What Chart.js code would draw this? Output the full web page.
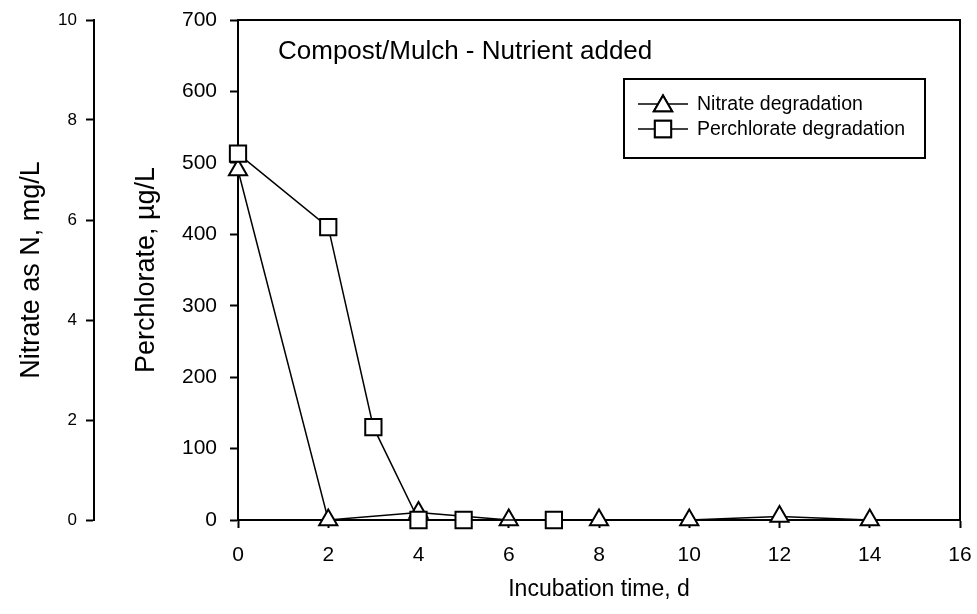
<!DOCTYPE html>
<html>
<head>
<meta charset="utf-8">
<script src="https://cdn.jsdelivr.net/npm/chart.js@4"></script>
<style>
  html, body { margin: 0; padding: 0; background: #fff; }
  #wrap { width: 977px; height: 614px; }
</style>
</head>
<body>
<div id="wrap"><canvas id="c" width="977" height="614"></canvas></div>
<script>
// ---- data ----
const nitrateDays = [0, 2, 4, 6, 8, 10, 12, 14];
const nitrateMgL = [7.0, 0, 0.15, 0, 0, 0, 0.07, 0];
const perchlorateDays = [0, 2, 3, 4, 5, 7];
const perchlorateUgL = [513, 410, 130, 0, 0, 0];
const seriesLabels = ['Nitrate degradation', 'Perchlorate degradation'];
const xTicks = [0, 2, 4, 6, 8, 10, 12, 14, 16];
const perchlorateTicks = [0, 100, 200, 300, 400, 500, 600, 700];
const nitrateTicks = [0, 2, 4, 6, 8, 10];
const annotationText = 'Compost/Mulch - Nutrient added';
const xTitle = 'Incubation time, d';
const perchlorateTitle = 'Perchlorate, \u00b5g/L';
const nitrateTitle = 'Nitrate as N, mg/L';

const FONT = "'Liberation Sans', Arial, Helvetica, sans-serif";
const toPts = (xs, ys) => xs.map((x, i) => ({ x: x, y: ys[i] }));

const annotationPlugin = {
  id: 'annot',
  afterDraw(chart) {
    const { ctx, chartArea } = chart;
    ctx.save();
    ctx.fillStyle = '#000';
    ctx.font = '26px ' + FONT;
    ctx.textBaseline = 'middle';
    ctx.textAlign = 'left';
    ctx.fillText(annotationText, chartArea.left + 40, 52);
    ctx.restore();
  }
};

const boxLegendPlugin = {
  id: 'boxLegend',
  afterDraw(chart) {
    const { ctx } = chart;
    const x0 = 624, y0 = 79, w = 301, h = 79;
    ctx.save();
    ctx.fillStyle = '#fff';
    ctx.fillRect(x0, y0, w, h);
    ctx.strokeStyle = '#000';
    ctx.lineWidth = 2;
    ctx.strokeRect(x0, y0, w, h);
    ctx.font = '19.5px ' + FONT;
    ctx.textBaseline = 'middle';
    const rows = [104, 129];
    seriesLabels.forEach((lbl, i) => {
      const ds = chart.data.datasets.find(d => d.label === lbl);
      const y = rows[i];
      ctx.beginPath();
      ctx.lineWidth = 1.5;
      ctx.strokeStyle = '#000';
      ctx.moveTo(638, y);
      ctx.lineTo(688, y);
      ctx.stroke();
      ctx.fillStyle = '#fff';
      ctx.lineWidth = 2;
      Chart.helpers.drawPoint(ctx, {
        pointStyle: ds.pointStyle,
        radius: ds.pointRadius,
        rotation: 0,
        borderWidth: 2
      }, 663, y + (ds.pointStyle === 'triangle' ? 2 : 0));
      ctx.fill();
      ctx.stroke();
      ctx.fillStyle = '#000';
      ctx.fillText(ds.label, 697, y + 1);
    });
    ctx.restore();
  }
};

const fix = (prop, v) => (scale) => {
  scale[prop] = v;
  scale.paddingTop = 0; scale.paddingBottom = 0;
  scale.paddingLeft = 0; scale.paddingRight = 0;
};

const tickGrid = { display: true, drawOnChartArea: false, drawTicks: true, tickLength: 8, tickWidth: 2, tickColor: '#000', color: '#000' };
const axisBorder = { display: true, color: '#000', width: 2 };

new Chart(document.getElementById('c'), {
  type: 'line',
  data: {
    datasets: [
      {
        label: seriesLabels[0],
        data: toPts(nitrateDays, nitrateMgL),
        yAxisID: 'y1',
        order: 1,
        clip: false,
        borderColor: '#000',
        borderWidth: 1.5,
        pointStyle: 'triangle',
        pointRadius: 10.5,
        pointBorderWidth: 2,
        pointBackgroundColor: '#fff',
        pointBorderColor: '#000',
        tension: 0,
        fill: false
      },
      {
        label: seriesLabels[1],
        data: toPts(perchlorateDays, perchlorateUgL),
        yAxisID: 'y',
        order: 0,
        clip: false,
        borderColor: '#000',
        borderWidth: 1.5,
        pointStyle: 'rect',
        pointRadius: 11.5,
        pointBorderWidth: 2,
        pointBackgroundColor: '#fff',
        pointBorderColor: '#000',
        tension: 0,
        fill: false
      }
    ]
  },
  options: {
    responsive: false,
    animation: false,
    layout: { padding: 0 },
    plugins: {
      legend: { display: false },
      tooltip: { enabled: false },
      title: { display: false }
    },
    scales: {
      x: {
        type: 'linear',
        position: 'bottom',
        min: xTicks[0],
        max: xTicks[xTicks.length - 1],
        afterBuildTicks: (s) => { s.ticks = xTicks.map(v => ({ value: v })); },
        ticks: { color: '#000', font: { family: FONT, size: 21 }, padding: 15, maxRotation: 0 },
        grid: tickGrid,
        border: axisBorder,
        title: { display: true, text: xTitle, color: '#000', font: { family: FONT, size: 23 }, padding: { top: 0, bottom: 11 } },
        afterFit: fix('height', 94)
      },
      x2: {
        type: 'linear',
        position: 'top',
        min: 0, max: 16,
        ticks: { display: false },
        grid: { display: false },
        border: axisBorder,
        afterFit: fix('height', 20)
      },
      y: {
        type: 'linear',
        position: 'left',
        weight: 0,
        min: perchlorateTicks[0],
        max: perchlorateTicks[perchlorateTicks.length - 1],
        afterBuildTicks: (s) => { s.ticks = perchlorateTicks.map(v => ({ value: v })); },
        ticks: { color: '#000', font: { family: FONT, size: 21 }, padding: 13 },
        grid: tickGrid,
        border: axisBorder,
        title: { display: true, text: perchlorateTitle, color: '#000', font: { family: FONT, size: 27 }, padding: { top: 36, bottom: 0 } },
        afterFit: fix('width', 144)
      },
      y1: {
        type: 'linear',
        position: 'left',
        weight: 1,
        min: nitrateTicks[0],
        max: nitrateTicks[nitrateTicks.length - 1],
        afterBuildTicks: (s) => { s.ticks = nitrateTicks.map(v => ({ value: v })); },
        ticks: { color: '#000', font: { family: FONT, size: 17 }, padding: 9 },
        grid: tickGrid,
        border: axisBorder,
        title: { display: true, text: nitrateTitle, color: '#000', font: { family: FONT, size: 27 }, padding: { top: 15, bottom: 0 } },
        afterFit: fix('width', 94)
      },
      y2: {
        type: 'linear',
        position: 'right',
        min: 0, max: 700,
        ticks: { display: false },
        grid: { display: false },
        border: axisBorder,
        afterFit: fix('width', 17)
      }
    }
  },
  plugins: [annotationPlugin, boxLegendPlugin]
});
</script>
</body>
</html>
